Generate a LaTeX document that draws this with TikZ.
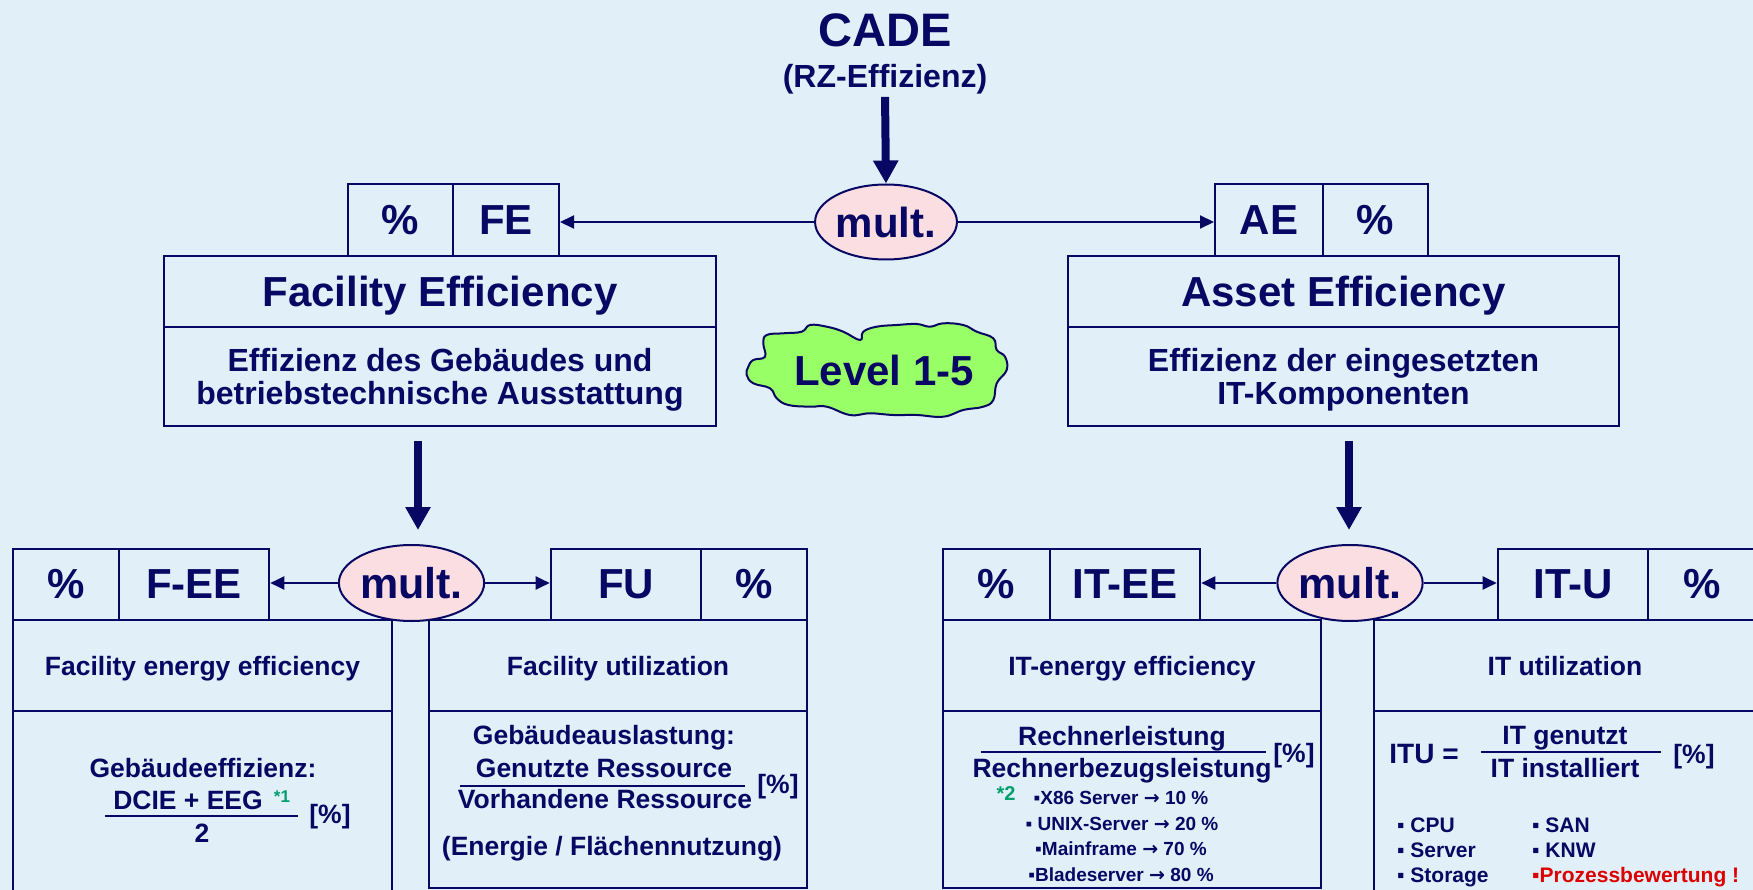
\documentclass[tikz,border=0pt]{standalone}
\usepackage{fontspec}
\setmainfont{Liberation Sans}
\newfontfamily\dejavu{DejaVu Sans}
\usetikzlibrary{arrows.meta,shapes.geometric}
\definecolor{bg}{RGB}{225,240,248}
\definecolor{navy}{RGB}{8,8,100}
\definecolor{pinkf}{RGB}{250,222,226}
\definecolor{cloudg}{RGB}{153,255,102}
\definecolor{stargreen}{RGB}{0,160,110}
\definecolor{redt}{RGB}{220,0,0}
\newcommand\myfs[1]{\fontsize{#1}{#1}\selectfont}
\newcommand\rarr{{\dejavu\bfseries →}}
\tikzset{
  txt/.style={text=navy, font=\bfseries, inner sep=0pt, anchor=base},
  lbox/.style={draw=navy, line width=2pt, text=navy, inner sep=0pt, font=\bfseries\myfs{42}},
  sbox/.style={draw=navy, line width=2.6pt, text=navy, inner sep=0pt, font=\bfseries\myfs{42}},
  bbox/.style={draw=navy, line width=2.6pt, text=navy, inner sep=0pt, text depth=0pt, font=\bfseries\myfs{26.5}},
  tbox/.style={draw=navy, line width=2pt, text=navy, inner sep=0pt, text depth=0pt},
  multe/.style={ellipse, draw=navy, line width=2pt, fill=pinkf, inner sep=0pt,
    minimum width=136pt, minimum height=75pt, text=navy, font=\bfseries\myfs{42}},
  conn/.style={draw=navy, line width=2pt, -{Triangle[width=13pt,length=14pt]}},
  bigarrow/.style={draw=navy, line width=8pt, -{Triangle[width=24pt,length=23pt]}},
  fracline/.style={draw=navy, line width=2.2pt},
}
\begin{document}
\begin{tikzpicture}[x=1pt,y=-1pt]
\useasboundingbox (0,0) rectangle (1753,890);
\fill[bg] (0,0) rectangle (1753,890);
\clip (0,0) rectangle (1753,890);

% ---------- top ----------
\node[txt, font=\bfseries\myfs{47}] (cade) at (885,47) {CADE};
\node[txt, font=\bfseries\myfs{32}] (rz) at (885,88) {(RZ-Effizienz)};
\node[multe] (m1) at (886,222) {mult.};
\draw[bigarrow, shorten <=2pt] (rz.south) -- (m1.north);

\node[lbox, minimum width=105pt, minimum height=72pt] (pFE) at (400.5,220) {\%};
\node[lbox, minimum width=106pt, minimum height=72pt] (FE) at (506,220) {FE};
\node[tbox, minimum width=552pt, minimum height=71pt, font=\bfseries\myfs{42}] (FacT) at (440,291.5) {Facility Efficiency};
\node[tbox, minimum width=552pt, minimum height=99pt, align=center, font=\bfseries\fontsize{32}{33}\selectfont] (FacD) at (440,376.5) {Effizienz des Gebäudes und\\betriebstechnische Ausstattung};

\node[lbox, minimum width=108pt, minimum height=72pt] (AE) at (1269,220) {AE};
\node[lbox, minimum width=105pt, minimum height=72pt] (pAE) at (1375.5,220) {\%};
\node[tbox, minimum width=551pt, minimum height=71pt, font=\bfseries\myfs{42}] (AsT) at (1343.5,291.5) {Asset Efficiency};
\node[tbox, minimum width=551pt, minimum height=99pt, align=center, font=\bfseries\fontsize{32}{33}\selectfont] (AsD) at (1343.5,376.5) {Effizienz der eingesetzten\\IT-Komponenten};

\draw[conn] (m1.west) -- (m1.west -| FE.east);
\draw[conn] (m1.east) -- (m1.east -| AE.west);

% cloud
\draw[navy, line width=2pt, fill=cloudg] plot[smooth cycle, tension=0.7] coordinates {
(748.3,366.7) (753.3,360) (765,356.7) (763.3,343.3) (766.7,335) (783.3,333.3)
(801.7,331.7) (810,325) (826.7,326.7) (843.3,331.7) (860,340) (863.3,331.7)
(876.7,326.7) (896.7,325) (916.7,324) (930,326.7) (943.3,323.3) (963.3,325)
(976.7,331.7) (993.3,338.3) (996.7,350) (1005,356.7) (1006.7,370) (996.7,383.3)
(993.3,400) (983.3,406.7) (963.3,410) (943.3,416.7) (916.7,415) (893.3,415)
(870,413.3) (850,415) (826.7,406.7) (810,406.7) (788.3,405) (776.7,398.3)
(770,388.3) (753.3,383.3) (746.7,375)};
\node[txt, font=\bfseries\myfs{42}] (lvl) at (884,385) {Level 1-5};

% down arrows
\coordinate (d1s) at (418,441); \coordinate (d1e) at (418,530);
\coordinate (d2s) at (1349,441); \coordinate (d2e) at (1349,530);
\draw[bigarrow] (d1s) -- (d1e);
\draw[bigarrow] (d2s) -- (d2e);

% ---------- bottom left ----------
\node[sbox, minimum width=106pt, minimum height=71pt] (p3) at (66,584.5) {\%};
\node[sbox, minimum width=150pt, minimum height=71pt] (FEE) at (194,584.5) {F-EE};
\node[multe, minimum width=135pt, minimum height=76pt, font=\bfseries\myfs{43}] (m2) at (411.5,583) {mult.};
\node[sbox, minimum width=150pt, minimum height=71pt] (FU) at (626,584.5) {FU};
\node[sbox, minimum width=106pt, minimum height=71pt] (p4) at (754,584.5) {\%};
\draw[conn] (m2.west) -- (m2.west -| FEE.east);
\draw[conn] (m2.east) -- (m2.east -| FU.west);

\node[bbox, minimum width=379pt, minimum height=91pt] (FEEt) at (202.5,665.5) {Facility energy efficiency};
\node[bbox, minimum width=379pt, minimum height=195pt] (FEEb) at (202.5,808.5) {};
\node[bbox, minimum width=378pt, minimum height=91pt] (FUt) at (618,665.5) {Facility utilization};
\node[bbox, minimum width=378pt, minimum height=177pt] (FUb) at (618,799.5) {};

\node[txt, font=\bfseries\myfs{26.5}] (geb) at (203,777) {Gebäudeeffizienz:};
\node[txt, font=\bfseries\myfs{26.5}] (dcie) at (188,809) {DCIE + EEG};
\node[txt, text=stargreen, font=\bfseries\myfs{17}] (st1) at (282,802) {*1};
\draw[fracline] (105,816) -- (298,816);
\node[txt, font=\bfseries\myfs{26.5}] (two) at (202,842) {2};
\node[txt, font=\bfseries\myfs{26.5}] (pc1) at (330,823) {[\%]};

\node[txt, font=\bfseries\myfs{26.5}] (gebaus) at (604,744) {Gebäudeauslastung:};
\node[txt, font=\bfseries\myfs{26.5}] (genres) at (604,777) {Genutzte Ressource};
\draw[fracline] (460,786) -- (745,786);
\node[txt, font=\bfseries\myfs{26.5}] (vorres) at (605,808) {Vorhandene Ressource};
\node[txt, font=\bfseries\myfs{26.5}] (pc2) at (778,793) {[\%]};
\node[txt, font=\bfseries\myfs{26.5}] (energ) at (612,855) {(Energie / Flächennutzung)};

% ---------- bottom right ----------
\node[sbox, minimum width=107pt, minimum height=71pt] (p5) at (996.5,584.5) {\%};
\node[sbox, minimum width=150pt, minimum height=71pt] (ITEE) at (1125,584.5) {IT-EE};
\node[multe, minimum width=136pt, minimum height=76pt, font=\bfseries\myfs{43}] (m3) at (1350,583) {mult.};
\node[sbox, minimum width=150pt, minimum height=71pt] (ITU) at (1573,584.5) {IT-U};
\node[sbox, minimum width=108pt, minimum height=71pt] (p6) at (1702,584.5) {\%};
\draw[conn] (m3.west) -- (m3.west -| ITEE.east);
\draw[conn] (m3.east) -- (m3.east -| ITU.west);

\node[bbox, minimum width=378pt, minimum height=91pt] (ITEEt) at (1132,665.5) {IT-energy efficiency};
\node[bbox, minimum width=378pt, minimum height=177pt] (ITEEb) at (1132,799.5) {};
\node[bbox, minimum width=382pt, minimum height=91pt] (ITUt) at (1565,665.5) {IT utilization};
\node[bbox, minimum width=382pt, minimum height=195pt] (ITUb) at (1565,808.5) {};

\node[txt, font=\bfseries\myfs{26.5}] (rl) at (1122,745) {Rechnerleistung};
\draw[fracline] (981,752) -- (1266,752);
\node[txt, font=\bfseries\myfs{26.5}] (rbl) at (1122,777) {Rechnerbezugsleistung};
\node[txt, font=\bfseries\myfs{26.5}] (pc3) at (1294,762) {[\%]};
\node[txt, text=stargreen, font=\bfseries\myfs{20}] (st2) at (1006,800) {*2};
\node[txt, font=\bfseries\myfs{19}] (x86) at (1121,804) {▪X86 Server \rarr{} 10 \%};
\node[txt, font=\bfseries\myfs{19}] (unix) at (1122,830) {▪ UNIX-Server \rarr{} 20 \%};
\node[txt, font=\bfseries\myfs{19}] (mainf) at (1121,855) {▪Mainframe \rarr{} 70 \%};
\node[txt, font=\bfseries\myfs{19}] (blade) at (1121,881) {▪Bladeserver \rarr{} 80 \%};

\node[txt, font=\bfseries\myfs{28}] (itueq) at (1424,763) {ITU =};
\node[txt, font=\bfseries\myfs{26.5}] (itgen) at (1565,744) {IT genutzt};
\draw[fracline] (1481,752) -- (1661,752);
\node[txt, font=\bfseries\myfs{26.5}] (itinst) at (1565,777) {IT installiert};
\node[txt, font=\bfseries\myfs{26.5}] (pc4) at (1694,763) {[\%]};

\node[txt, font=\bfseries\myfs{21}, anchor=base west] (cpu) at (1397,832) {▪ CPU};
\node[txt, font=\bfseries\myfs{21}, anchor=base west] (srv) at (1397,857) {▪ Server};
\node[txt, font=\bfseries\myfs{21}, anchor=base west] (sto) at (1397,882) {▪ Storage};
\node[txt, font=\bfseries\myfs{21}, anchor=base west] (san) at (1532,832) {▪ SAN};
\node[txt, font=\bfseries\myfs{21}, anchor=base west] (knw) at (1532,857) {▪ KNW};
\node[txt, text=redt, font=\bfseries\myfs{21}, anchor=base west] (proz) at (1532,882) {▪Prozessbewertung !};
\end{tikzpicture}
\end{document}
